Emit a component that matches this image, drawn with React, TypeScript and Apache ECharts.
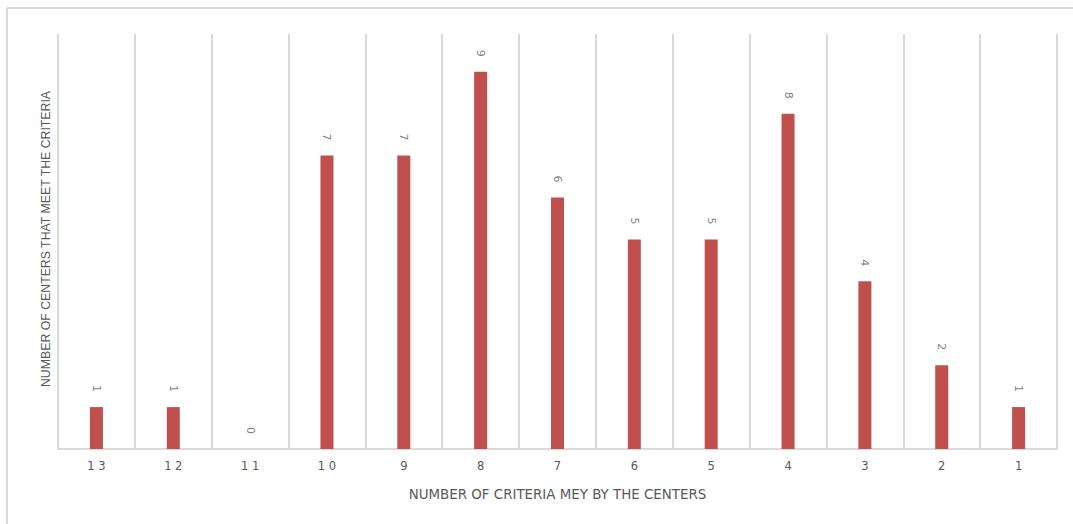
import React, { useEffect, useRef } from "react";
import * as echarts from "echarts";

const categories = ["1 3", "1 2", "1 1", "1 0", "9", "8", "7", "6", "5", "4", "3", "2", "1"];
const centers = [1, 1, 0, 7, 7, 9, 6, 5, 5, 8, 4, 2, 1];
const xTitle = "NUMBER OF CRITERIA MEY BY THE CENTERS";
const yTitle = "NUMBER OF CENTERS THAT MEET THE CRITERIA";

export default function App() {
  const ref = useRef<HTMLDivElement>(null);
  useEffect(() => {
    const chart = echarts.init(ref.current!, null, { renderer: "svg" });
    chart.setOption({
      animation: false,
      backgroundColor: "#ffffff",
      grid: { left: 58, right: 16, top: 34, bottom: 75 },
      graphic: [
        { type: "line", shape: { x1: 7, y1: 8, x2: 1073, y2: 8 }, style: { stroke: "#d9d9d9", lineWidth: 2 } },
        { type: "line", shape: { x1: 7, y1: 8, x2: 7, y2: 524 }, style: { stroke: "#d9d9d9", lineWidth: 2 } },
        {
          type: "text",
          x: 46,
          y: 239,
          rotation: Math.PI / 2,
          style: {
            text: yTitle,
            fill: "#595959",
            font: "12.3px 'Liberation Sans', Arial, sans-serif",
            align: "center",
            verticalAlign: "middle",
          },
        },
      ],
      xAxis: {
        type: "category",
        data: categories,
        name: xTitle,
        nameLocation: "middle",
        nameGap: 39,
        nameTextStyle: { color: "#595959", fontSize: 13.4, fontFamily: "DejaVu Sans" },
        axisLine: { show: true, lineStyle: { color: "#d9d9d9", width: 2 } },
        axisTick: { show: false },
        axisLabel: { color: "#595959", fontSize: 11.5, fontFamily: "DejaVu Sans", margin: 11 },
        splitLine: { show: true, lineStyle: { color: "#d9d9d9", width: 2 } },
      },
      yAxis: {
        type: "value",
        min: 0,
        max: 9.9,
        show: false,
        splitLine: { show: false },
      },
      series: [
        {
          type: "bar",
          data: centers,
          barWidth: 13,
          itemStyle: { color: "#c0504d" },
          label: {
            show: true,
            position: "top",
            distance: 15,
            rotate: -90,
            align: "right",
            verticalAlign: "middle",
            color: "#7f7f7f",
            fontSize: 11,
            fontFamily: "DejaVu Sans",
          },
        },
      ],
    });
    return () => chart.dispose();
  }, []);
  return (
    <div
      ref={ref}
      style={{ position: "fixed", left: 0, top: 0, width: 1073, height: 524 }}
    />
  );
}
